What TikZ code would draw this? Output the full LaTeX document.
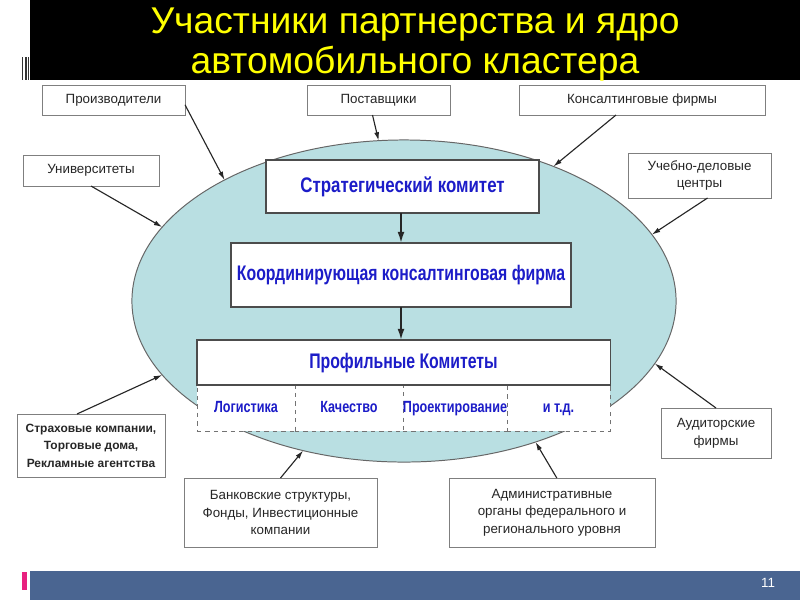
\documentclass[tikz,border=0pt]{standalone}
\usepackage{fontspec}
\setmainfont{Liberation Sans}
\usepackage{graphicx}
\usetikzlibrary{shapes.geometric,arrows.meta}

\definecolor{titleyellow}{HTML}{FFFF00}
\definecolor{ovalfill}{HTML}{B9DFE2}
\definecolor{textblue}{HTML}{1C1CC8}
\definecolor{barblue}{HTML}{4A6591}
\definecolor{tabpink}{HTML}{E8217F}
\definecolor{boxgray}{HTML}{7F7F7F}

\newcommand{\narrowbold}[2][0.75]{\scalebox{#1}[1]{\bfseries #2}}

\tikzset{
  outerbox/.style={draw=boxgray, line width=0.6pt, fill=white, align=center, inner sep=2pt, outer sep=0pt,
    font=\fontsize{9.5}{12.5}\selectfont, text=black!85},
  corebox/.style={draw=black!70, line width=0.8pt, fill=white, align=center, inner sep=0pt, outer sep=0pt,
    text height=11pt, text depth=3pt, text=textblue, font=\fontsize{15}{18}\selectfont},
  cellbox/.style={draw=black!55, dashed, line width=0.6pt, fill=white, inner sep=0pt, outer sep=0pt,
    minimum height=1.15cm, text height=8.5pt, text depth=2.5pt, text=textblue, font=\fontsize{11.5}{14}\selectfont},
  linkarrow/.style={-{Latex[length=6pt,width=3.5pt]}, line width=0.8pt, black!85},
  corearrow/.style={-{Latex[length=8pt,width=5pt]}, line width=1.3pt, black!85},
}

\begin{document}
\begin{tikzpicture}[x=0.025cm, y=-0.025cm]
    \useasboundingbox (0,0) rectangle (800,600);
    \fill[white] (0,0) rectangle (800,600);

    % Title bar
    \fill[black] (30,0) rectangle (800,80);
    \foreach \sx in {22,24.5,26,28} {
        \fill[black!80] (\sx,57) rectangle (\sx+1,80);
    }
    \node[text=titleyellow, font=\fontsize{26.5}{28.5}\selectfont, align=center] (title) at (415,45)
        {Участники партнерства и ядро\\автомобильного кластера};

    % Footer
    \fill[barblue] (30,571) rectangle (800,600);
    \fill[tabpink] (22,572) rectangle (27,590);
    \node[text=white, font=\fontsize{9.5}{11}\selectfont] (pagenum) at (768,583) {11};

    % Cluster core
    \node[ellipse, draw=black!60, line width=0.7pt, fill=ovalfill, minimum width=13.6cm, minimum height=8.05cm,
        inner sep=0pt, outer sep=0pt] (core) at (404,301) {};

    \node[corebox, minimum width=6.825cm, minimum height=1.325cm] (strat) at (402.5,186.5)
        {\narrowbold[0.8]{Стратегический комитет}};
    \node[corebox, minimum width=8.5cm, minimum height=1.6cm] (coord) at (401,275)
        {\narrowbold{Координирующая консалтинговая фирма}};

    \node[cellbox, minimum width=2.45cm] (logist) at (246,408) {\narrowbold[0.78]{Логистика}};
    \node[cellbox, minimum width=2.7cm] (quality) at (349,408) {\narrowbold[0.78]{Качество}};
    \node[cellbox, minimum width=2.6cm] (design) at (455,408) {\narrowbold[0.78]{Проектирование}};
    \node[cellbox, minimum width=2.575cm] (etc) at (558.5,408) {\narrowbold[0.78]{и т.д.}};
    \node[corebox, minimum width=10.325cm, minimum height=1.125cm] (prof) at (403.5,362.5)
        {\narrowbold{Профильные Комитеты}};

    \draw[corearrow] (coord.north |- strat.south) -- (coord.north);
    \draw[corearrow] (coord.south) -- (coord.south |- prof.north);

    % Partners
    \node[outerbox, minimum width=3.575cm, minimum height=0.75cm] (prod) at (113.5,100) {Производители};
    \node[outerbox, minimum width=3.575cm, minimum height=0.75cm] (supp) at (378.5,100) {Поставщики};
    \node[outerbox, minimum width=6.15cm, minimum height=0.75cm] (consult) at (642,100) {Консалтинговые фирмы};
    \node[outerbox, minimum width=3.4cm, minimum height=0.775cm] (univ) at (91,170.5) {Университеты};
    \node[outerbox, minimum width=3.575cm, minimum height=1.125cm] (train) at (699.5,175.5) {Учебно-деловые\\центры};
    \node[outerbox, minimum width=3.7cm, minimum height=1.575cm, font=\bfseries\fontsize{8.5}{12.5}\selectfont] (insur) at (91,445.5)
        {Страховые компании,\\Торговые дома,\\Рекламные агентства};
    \node[outerbox, minimum width=4.825cm, minimum height=1.725cm] (bank) at (280.5,512.5)
        {Банковские структуры,\\Фонды, Инвестиционные\\компании};
    \node[outerbox, minimum width=5.15cm, minimum height=1.725cm] (admin) at (552,512.5)
        {Административные\\органы федерального и\\регионального уровня};
    \node[outerbox, minimum width=2.75cm, minimum height=1.25cm] (audit) at (716,433) {Аудиторские\\фирмы};

    % Links to the core
    \draw[linkarrow] ([yshift=-0.12cm]prod.east) -- (core.146);
    \draw[linkarrow] (univ.south) -- (core.163);
    \draw[linkarrow] ([xshift=-0.15cm]supp.south) -- (core.99);
    \draw[linkarrow] ([xshift=-0.65cm]consult.south) -- (core.42);
    \draw[linkarrow] ([xshift=0.2cm]train.south) -- (core.15);
    \draw[linkarrow] ([xshift=-0.35cm]insur.north) -- (core.197);
    \draw[linkarrow] (bank.north) -- (core.236);
    \draw[linkarrow] ([xshift=0.12cm]admin.north) -- (core.313);
    \draw[linkarrow] (audit.north) -- (core.346);
\end{tikzpicture}
\end{document}
